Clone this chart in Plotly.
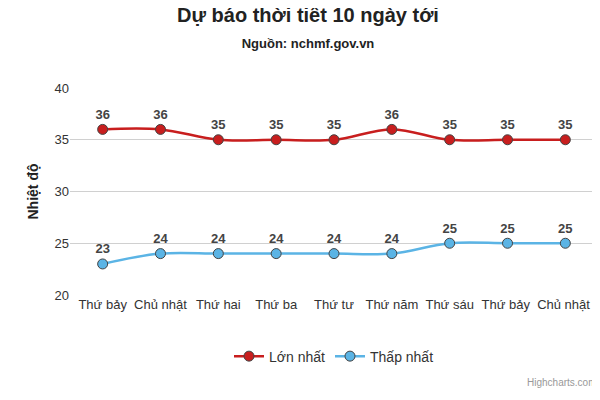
import plotly.graph_objects as go

days = ["Thứ bảy", "Chủ nhật", "Thứ hai", "Thứ ba", "Thứ tư", "Thứ năm", "Thứ sáu", "Thứ bảy ", "Chủ nhật "]
high = [36, 36, 35, 35, 35, 36, 35, 35, 35]
low = [23, 24, 24, 24, 24, 24, 25, 25, 25]

fig = go.Figure()
for name, vals, color in [("Lớn nhất", high, "#c81e1e"), ("Thấp nhất", low, "#5bb4e5")]:
    fig.add_trace(go.Scatter(
        x=days, y=vals, name=name, mode="lines+markers+text",
        line=dict(color=color, width=2.5, shape="spline"),
        marker=dict(size=10, color=color, line=dict(color="#444", width=1)),
        text=["<b>%d</b>" % v for v in vals], textposition="top center",
        textfont=dict(family="Arial", size=13, color="#444"),
        cliponaxis=False,
    ))

fig.update_layout(
    width=600, height=400,
    margin=dict(l=62, r=10, t=80, b=113),
    paper_bgcolor="white", plot_bgcolor="white",
    font=dict(family="Arial", color="#333"),
    title=dict(text="<b>Dự báo thời tiết 10 ngày tới</b><br><span style='font-size:13px'><b>Nguồn: nchmf.gov.vn</b></span>",
               x=0.5, y=0.965, xanchor="center", font=dict(size=20, color="#222")),
    xaxis=dict(showgrid=False, showline=False, ticks="", tickfont=dict(size=13, color="#333")),
    yaxis=dict(range=[20, 40], dtick=5, gridcolor="#d0d0d0", zeroline=False,
               tickfont=dict(size=13, color="#333"),
               title=dict(text="<b>Nhiệt độ</b>", font=dict(size=14, color="#222"), standoff=12)),
    legend=dict(orientation="h", x=0.5, xanchor="center", y=-0.22, yanchor="top",
                font=dict(size=14, color="#333")),
    showlegend=True,
)
fig.add_annotation(text="Highcharts.com", xref="paper", yref="paper", x=1, y=-0.46,
                   xanchor="right", showarrow=False, font=dict(size=10, color="#999"))
fig.write_html("out.html")
